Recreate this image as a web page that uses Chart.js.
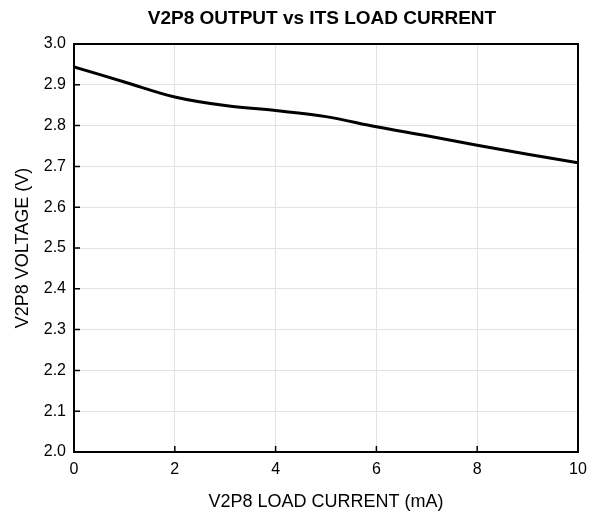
<!DOCTYPE html>
<html>
<head>
<meta charset="utf-8">
<script src="https://cdn.jsdelivr.net/npm/chart.js@4"></script>
<style>
    html, body { margin: 0; padding: 0; background: #fff; }
    #wrap { width: 604px; height: 518px; }
</style>
</head>
<body>
<div id="wrap"><canvas id="loadChart" width="604" height="518"></canvas></div>
<script>
// Values
const chartTitle = 'V2P8 OUTPUT vs ITS LOAD CURRENT';
const loadCurrent = [0, 1, 2, 3, 4, 5, 6, 7, 8, 9, 10];          // mA
const outputVoltage = [2.944, 2.907, 2.870, 2.849, 2.837, 2.822, 2.797, 2.775, 2.752, 2.730, 2.709]; // V
const xTickValues = [0, 2, 4, 6, 8, 10];
const yTickValues = [2.0, 2.1, 2.2, 2.3, 2.4, 2.5, 2.6, 2.7, 2.8, 2.9, 3.0];

const fontFamily = '"Liberation Sans", Arial, sans-serif';

// Frame, inward tick marks and the title
const framePlugin = {
    id: 'frame',
    afterDatasetsDraw(chart) {
        const {ctx, chartArea: a, scales} = chart;
        ctx.save();
        ctx.strokeStyle = '#000';

        // inward ticks
        ctx.lineWidth = 1.5;
        ctx.beginPath();
        scales.x.ticks.forEach(t => {
            const px = scales.x.getPixelForValue(t.value);
            ctx.moveTo(px, a.bottom);
            ctx.lineTo(px, a.bottom - 6);
        });
        scales.y.ticks.forEach(t => {
            const py = scales.y.getPixelForValue(t.value);
            ctx.moveTo(a.left, py);
            ctx.lineTo(a.left + 6, py);
        });
        ctx.stroke();

        // border box
        ctx.lineWidth = 2;
        ctx.strokeRect(a.left, a.top, a.right - a.left, a.bottom - a.top);

        // title
        ctx.fillStyle = '#000';
        ctx.font = 'bold 19px ' + fontFamily;
        ctx.textAlign = 'center';
        ctx.textBaseline = 'middle';
        ctx.fillText(chartTitle, (a.left + a.right) / 2 - 4, 19);
        ctx.restore();
    }
};

new Chart(document.getElementById('loadChart'), {
    type: 'line',
    data: {
        datasets: [{
            data: loadCurrent.map((x, i) => ({x: x, y: outputVoltage[i]})),
            borderColor: '#000',
            borderWidth: 3,
            pointRadius: 0,
            tension: 0.35,
            fill: false
        }]
    },
    options: {
        responsive: false,
        animation: false,
        layout: {
            padding: {top: 44, right: 26, left: 0, bottom: 0}
        },
        plugins: {
            legend: {display: false},
            tooltip: {enabled: false}
        },
        scales: {
            x: {
                type: 'linear',
                min: 0,
                max: 10,
                afterBuildTicks: s => { s.ticks = xTickValues.map(v => ({value: v})); },
                afterFit: s => { s.height = 66; },
                grid: {
                    color: '#e2e2e2',
                    lineWidth: 1,
                    drawTicks: false
                },
                border: {display: false},
                ticks: {
                    color: '#000',
                    padding: 8,
                    font: {family: fontFamily, size: 16}
                },
                title: {
                    display: true,
                    text: 'V2P8 LOAD CURRENT (mA)',
                    color: '#000',
                    padding: {top: 0, bottom: 5},
                    font: {family: fontFamily, size: 18}
                }
            },
            y: {
                type: 'linear',
                min: 2,
                max: 3,
                afterBuildTicks: s => { s.ticks = yTickValues.map(v => ({value: v})); },
                afterFit: s => { s.width = 74; },
                grid: {
                    color: '#e2e2e2',
                    lineWidth: 1,
                    drawTicks: false
                },
                border: {display: false},
                ticks: {
                    color: '#000',
                    padding: 8,
                    font: {family: fontFamily, size: 16},
                    callback: v => Number(v).toFixed(1)
                },
                title: {
                    display: true,
                    text: 'V2P8 VOLTAGE (V)',
                    color: '#000',
                    padding: {top: 12, bottom: 0},
                    font: {family: fontFamily, size: 18}
                }
            }
        }
    },
    plugins: [framePlugin]
});
</script>
</body>
</html>
